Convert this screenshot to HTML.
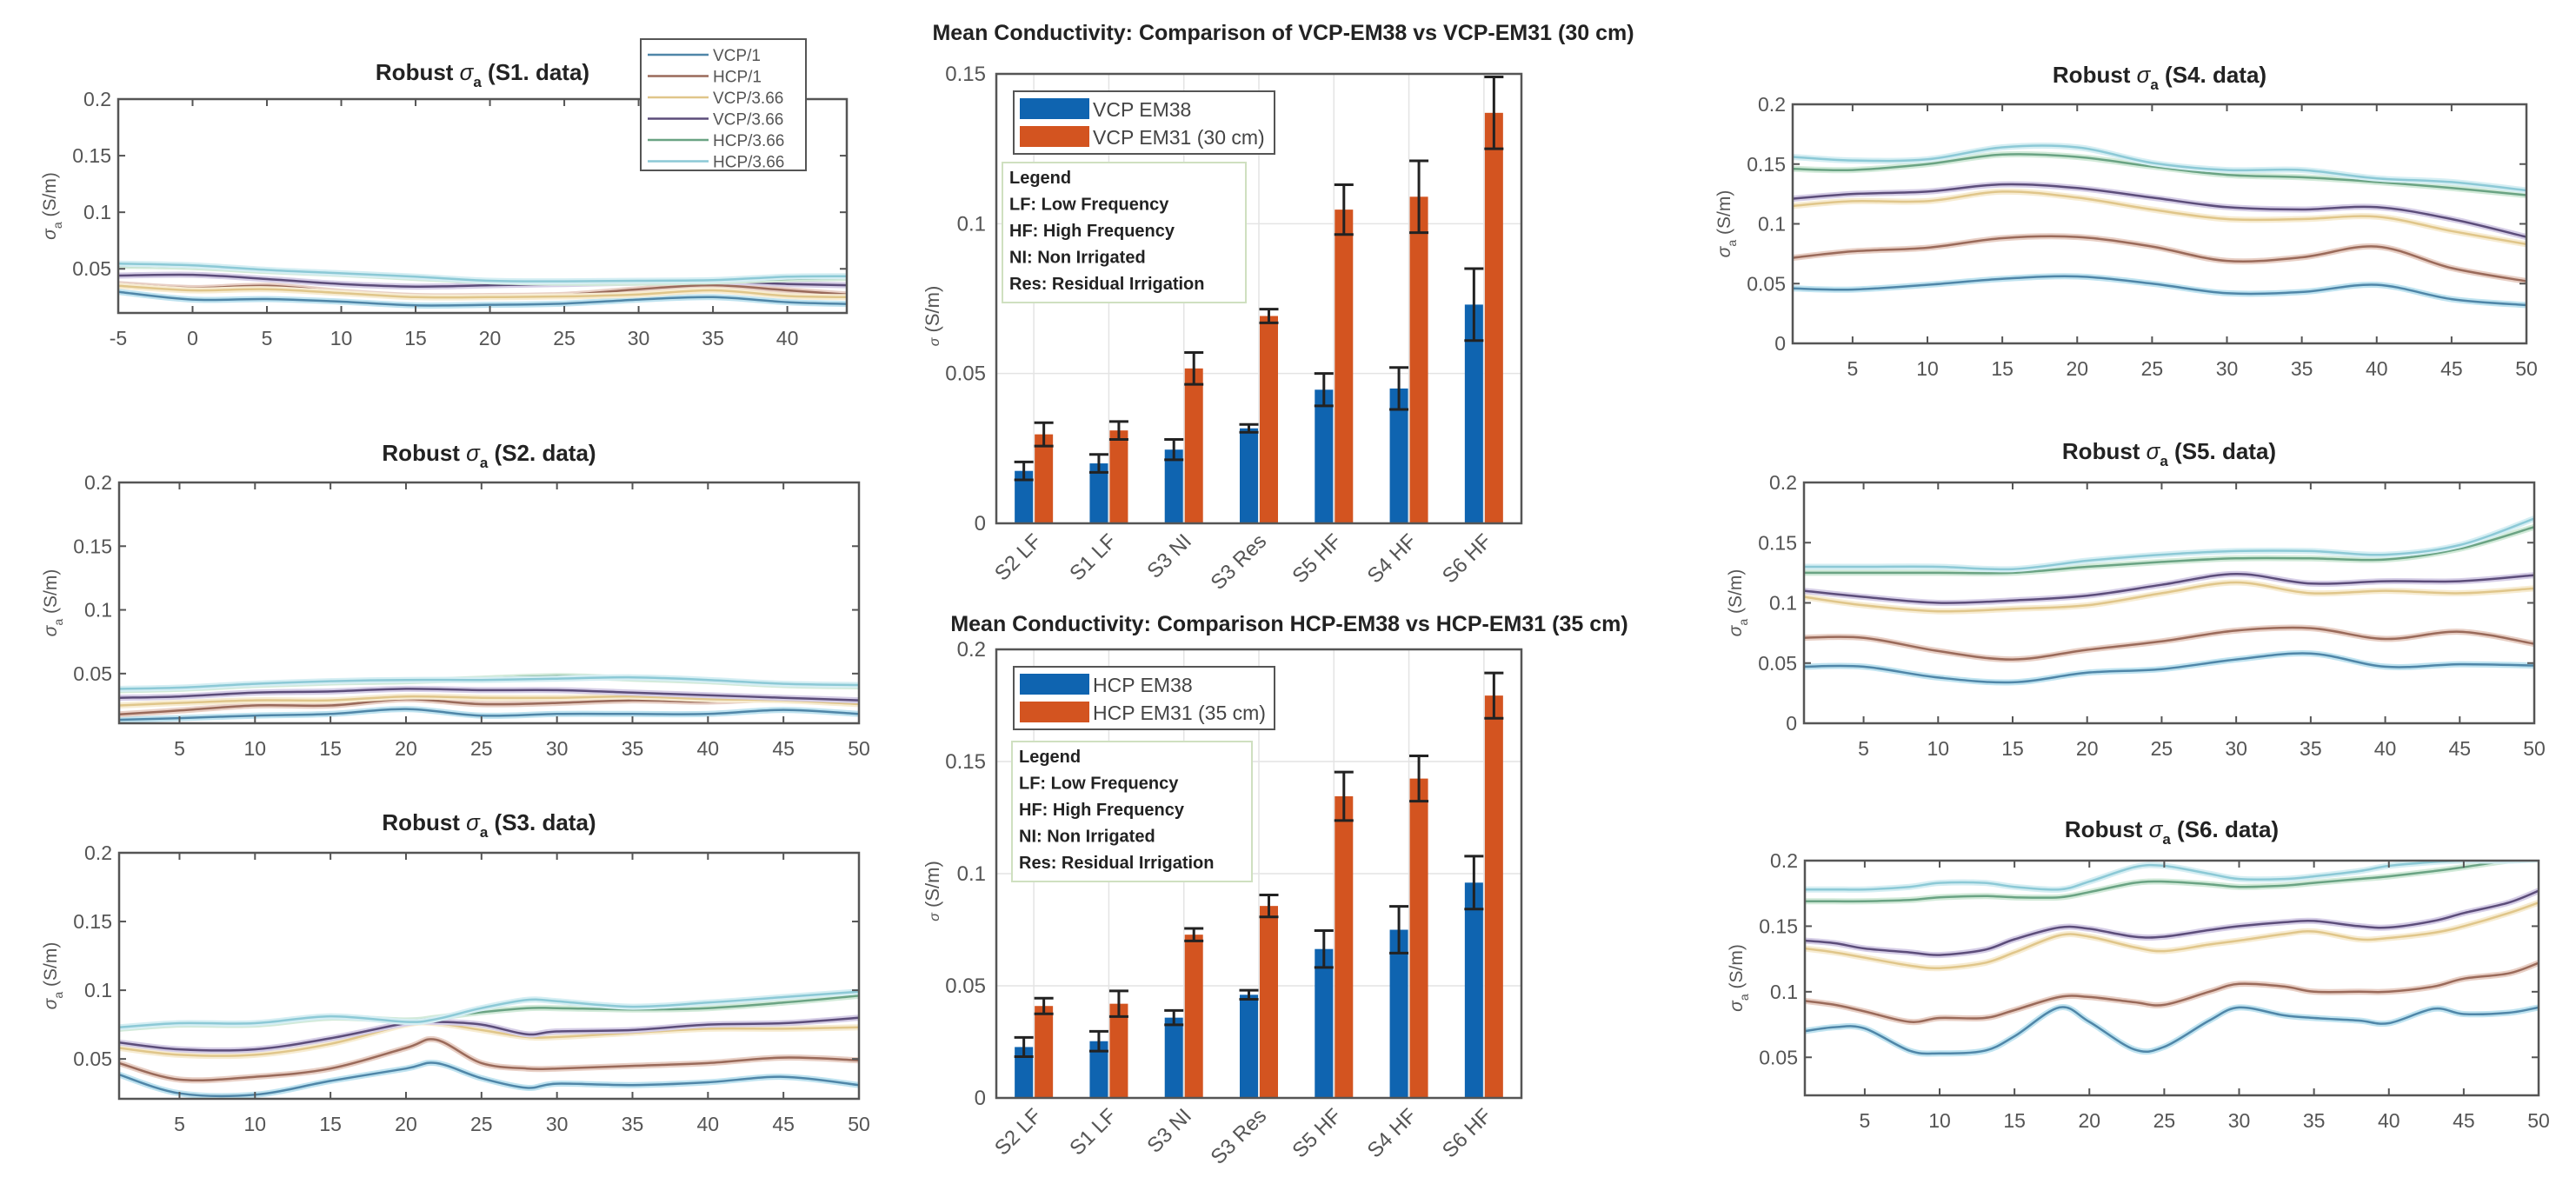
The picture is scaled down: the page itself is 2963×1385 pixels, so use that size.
<!DOCTYPE html>
<html><head><meta charset="utf-8">
<style>
html,body{margin:0;padding:0;background:#fff;}
svg{display:block;font-family:"Liberation Sans",Arial,sans-serif;}
</style></head>
<body>
<svg id="fig" width="2963" height="1385" viewBox="0 0 2963 1385" xmlns="http://www.w3.org/2000/svg"></svg>
<script>
// ===== Line-panel data =====
const seriesNames = ["VCP/1","HCP/1","VCP/3.66","VCP/3.66","HCP/3.66","HCP/3.66"];
const xsS1 = [-5,0,5,10,15,20,25,30,35,40,44];
const s1_vcp1   = [0.0297,0.0228,0.0233,0.021,0.0177,0.0182,0.0193,0.0228,0.025,0.0205,0.019];
const s1_hcp1   = [0.0366,0.033,0.035,0.0297,0.026,0.026,0.027,0.032,0.0355,0.031,0.0274];
const s1_vcp366 = [0.035,0.031,0.032,0.0286,0.025,0.025,0.0256,0.0274,0.031,0.026,0.025];
const s1_vcp366b= [0.044,0.0447,0.041,0.0366,0.0343,0.0355,0.0366,0.0378,0.039,0.0366,0.0355];
const s1_hcp366 = [0.0528,0.0516,0.048,0.0454,0.042,0.039,0.0378,0.0378,0.039,0.041,0.042];
const s1_hcp366b= [0.0546,0.053,0.049,0.046,0.043,0.0394,0.039,0.0394,0.04,0.043,0.0435];

const xsS2 = [1,5,10,15,20,25,30,35,40,45,50];
const s2_vcp1   = [0.0137,0.015,0.017,0.0183,0.0222,0.017,0.0183,0.0183,0.0183,0.0215,0.0183];
const s2_hcp1   = [0.018,0.021,0.025,0.025,0.030,0.026,0.027,0.029,0.028,0.030,0.027];
const s2_vcp366 = [0.025,0.027,0.029,0.029,0.032,0.031,0.031,0.032,0.030,0.029,0.026];
const s2_vcp366b= [0.031,0.032,0.035,0.036,0.038,0.037,0.037,0.035,0.033,0.031,0.029];
const s2_hcp366 = [0.037,0.038,0.041,0.043,0.044,0.046,0.048,0.046,0.044,0.041,0.040];
const s2_hcp366b= [0.038,0.039,0.042,0.044,0.045,0.045,0.046,0.047,0.045,0.042,0.041];

const xsS3 = [1,5,10,15,20,22,25,28,30,35,40,45,50];
const s3_vcp1   = [0.0386,0.025,0.024,0.034,0.043,0.047,0.036,0.029,0.032,0.031,0.033,0.037,0.031];
const s3_hcp1   = [0.047,0.035,0.037,0.043,0.058,0.064,0.047,0.043,0.043,0.045,0.047,0.051,0.049];
const s3_vcp366 = [0.058,0.053,0.053,0.061,0.075,0.076,0.071,0.066,0.066,0.069,0.072,0.072,0.073];
const s3_vcp366b= [0.062,0.057,0.057,0.065,0.076,0.077,0.075,0.068,0.070,0.071,0.075,0.076,0.080];
const s3_hcp366 = [0.072,0.075,0.075,0.080,0.078,0.080,0.084,0.087,0.087,0.086,0.087,0.091,0.096];
const s3_hcp366b= [0.073,0.076,0.076,0.081,0.077,0.079,0.087,0.093,0.092,0.088,0.091,0.095,0.099];

const xsS4 = [1,5,10,15,20,25,30,35,40,45,50];
const s4_vcp1   = [0.046,0.045,0.049,0.054,0.056,0.050,0.042,0.043,0.049,0.037,0.032];
const s4_hcp1   = [0.0716,0.077,0.080,0.088,0.089,0.081,0.069,0.072,0.081,0.063,0.052];
const s4_vcp366 = [0.115,0.119,0.119,0.127,0.122,0.112,0.104,0.104,0.106,0.094,0.083];
const s4_vcp366b= [0.121,0.125,0.127,0.133,0.130,0.122,0.114,0.112,0.114,0.104,0.089];
const s4_hcp366 = [0.146,0.145,0.150,0.158,0.156,0.148,0.141,0.139,0.135,0.130,0.124];
const s4_hcp366b= [0.156,0.153,0.154,0.164,0.164,0.151,0.145,0.145,0.138,0.135,0.128];

const xsS5 = [1,5,10,15,20,25,30,35,40,45,50];
const s5_vcp1   = [0.047,0.047,0.038,0.034,0.042,0.045,0.053,0.058,0.047,0.049,0.048];
const s5_hcp1   = [0.071,0.071,0.060,0.053,0.061,0.068,0.077,0.079,0.070,0.076,0.066];
const s5_vcp366 = [0.105,0.098,0.093,0.095,0.098,0.108,0.117,0.108,0.110,0.108,0.112];
const s5_vcp366b= [0.110,0.105,0.100,0.102,0.106,0.115,0.124,0.116,0.118,0.118,0.123];
const s5_hcp366 = [0.125,0.125,0.125,0.125,0.130,0.134,0.137,0.137,0.136,0.145,0.163];
const s5_hcp366b= [0.130,0.130,0.130,0.128,0.135,0.140,0.143,0.143,0.140,0.148,0.170];

const xsS6 = [1,3,5,8,10,13,15,18,20,23,25,28,30,33,35,38,40,43,45,48,50];
const s6_vcp1   = [0.070,0.073,0.072,0.055,0.053,0.055,0.066,0.088,0.077,0.056,0.058,0.078,0.088,0.082,0.080,0.078,0.076,0.087,0.083,0.084,0.088];
const s6_hcp1   = [0.093,0.090,0.085,0.077,0.080,0.080,0.086,0.096,0.096,0.092,0.090,0.100,0.106,0.104,0.100,0.100,0.100,0.104,0.110,0.114,0.122];
const s6_vcp366 = [0.133,0.130,0.126,0.120,0.118,0.122,0.130,0.143,0.142,0.134,0.131,0.136,0.139,0.144,0.146,0.140,0.141,0.145,0.150,0.160,0.168];
const s6_vcp366b= [0.139,0.137,0.133,0.130,0.128,0.132,0.140,0.149,0.148,0.142,0.142,0.147,0.150,0.153,0.154,0.150,0.149,0.154,0.160,0.168,0.177];
const s6_hcp366 = [0.169,0.169,0.169,0.170,0.172,0.173,0.172,0.172,0.176,0.183,0.184,0.182,0.180,0.181,0.183,0.186,0.188,0.192,0.195,0.200,0.201];
const s6_hcp366b= [0.178,0.178,0.178,0.180,0.183,0.183,0.180,0.178,0.184,0.195,0.196,0.190,0.186,0.186,0.188,0.192,0.196,0.199,0.200,0.200,0.201];

// ===== Bar-chart data =====
const barCategories = ["S2 LF","S1 LF","S3 NI","S3 Res","S5 HF","S4 HF","S6 HF"];
const vcpEM38      = [0.0175,0.020,0.0246,0.0317,0.0446,0.045,0.073];
const vcpEM38Err   = [0.003,0.003,0.0034,0.0013,0.0054,0.007,0.012];
const vcpEM31      = [0.0297,0.031,0.0517,0.0692,0.1047,0.109,0.137];
const vcpEM31Err   = [0.0039,0.003,0.0053,0.0023,0.0083,0.012,0.012];
const hcpEM38      = [0.0227,0.0253,0.0358,0.046,0.0664,0.075,0.096];
const hcpEM38Err   = [0.0043,0.0044,0.0032,0.002,0.0082,0.0104,0.0118];
const hcpEM31      = [0.041,0.042,0.0728,0.0856,0.1345,0.1424,0.1794];
const hcpEM31Err   = [0.0035,0.0057,0.0028,0.0049,0.0108,0.0101,0.0101];
const yTicksBar1 = [0,0.05,0.1,0.15];
const yTicksBar2 = [0,0.05,0.1,0.15,0.2];
const legendNotes = ["Legend","LF: Low Frequency","HF: High Frequency","NI: Non Irrigated","Res: Residual Irrigation"];

const NS="http://www.w3.org/2000/svg";
const svg=document.getElementById('fig');
function mk(tag,attrs,parent){const e=document.createElementNS(NS,tag);for(const k in attrs)e.setAttribute(k,attrs[k]);(parent||svg).appendChild(e);return e;}
function fmt(v){return (Math.round(v*100)/100).toString();}
function smoothPath(pts){
  let d="M"+pts[0][0].toFixed(1)+","+pts[0][1].toFixed(1);
  for(let i=0;i<pts.length-1;i++){
    const p0=pts[i-1]||pts[i],p1=pts[i],p2=pts[i+1],p3=pts[i+2]||p2;
    const c1=[p1[0]+(p2[0]-p0[0])/6,p1[1]+(p2[1]-p0[1])/6];
    const c2=[p2[0]-(p3[0]-p1[0])/6,p2[1]-(p3[1]-p1[1])/6];
    d+=" C"+c1[0].toFixed(1)+","+c1[1].toFixed(1)+" "+c2[0].toFixed(1)+","+c2[1].toFixed(1)+" "+p2[0].toFixed(1)+","+p2[1].toFixed(1);
  }
  return d;
}
const lineColors=["#4f86a8","#9a6a5a","#e0c68a","#5c4d7a","#6aa383","#8cc9d6"];
const haloColors=["#bfe3f0","#e8cfc5","#f7ecd2","#d5cde6","#d2ead9","#d5eef3"];

function linePanel(cfg){
  const g=mk('g',{});
  
  
  const {L,R,T,B,x0,x1,y0,y1}=cfg;
  const sx=v=>L+(v-x0)/(x1-x0)*(R-L);
  const sy=v=>B-(v-y0)/(y1-y0)*(B-T);
  mk('rect',{x:L,y:T,width:R-L,height:B-T,fill:'#fff'},g);
  const clipId='clip'+cfg.id;
  const cp=mk('clipPath',{id:clipId},g);mk('rect',{x:L,y:T,width:R-L,height:B-T},cp);
  const lg=mk('g',{'clip-path':'url(#'+clipId+')'},g);
  cfg.series.forEach((s,i)=>{
    const pts=cfg.xs.map((x,j)=>[sx(x),sy(s[j])]);
    const d=smoothPath(pts);
    const h=mk('path',{d:d,fill:'none',stroke:haloColors[i],'stroke-width':7},lg);
    
    
    const p=mk('path',{d:d,fill:'none',stroke:lineColors[i],'stroke-width':2.5},lg);
    
    
  });
  mk('rect',{x:L,y:T,width:R-L,height:B-T,fill:'none',stroke:'#555','stroke-width':2.5},g);
  cfg.xticks.forEach(t=>{
    const x=sx(t);
    mk('line',{x1:x,y1:B,x2:x,y2:B-8,stroke:'#555','stroke-width':2},g);
    mk('line',{x1:x,y1:T,x2:x,y2:T+8,stroke:'#555','stroke-width':2},g);
    const tx=mk('text',{x:x,y:B+37,'text-anchor':'middle','font-size':23,fill:'#555'},g);
    tx.textContent=t;
    
    
  });
  cfg.yticks.forEach(t=>{
    const y=sy(t);
    mk('line',{x1:L,y1:y,x2:L+8,y2:y,stroke:'#555','stroke-width':2},g);
    mk('line',{x1:R,y1:y,x2:R-8,y2:y,stroke:'#555','stroke-width':2},g);
    const ty=mk('text',{x:L-8,y:y+8,'text-anchor':'end','font-size':23,fill:'#555'},g);
    ty.textContent=fmt(t);
    
    
  });
  const tt=mk('text',{x:(L+R)/2,y:cfg.titleY,'text-anchor':'middle','font-size':26,'font-weight':'bold',fill:'#222'},g);
  
  
  tt.innerHTML='Robust <tspan font-style="italic" font-weight="normal">σ</tspan><tspan dy="8" font-size="17">a</tspan><tspan dy="-8"> ('+cfg.label+'. data)</tspan>';
  const yl=mk('text',{transform:'translate('+(L-72)+','+((T+B)/2)+') rotate(-90)','text-anchor':'middle','font-size':21,fill:'#555'},g);
  
  
  yl.innerHTML='<tspan font-style="italic">σ</tspan><tspan dy="7" font-size="14">a</tspan><tspan dy="-7"> (S/m)</tspan>';
  return g;
}
const S=(a,b,c,d,e,f)=>[a,b,c,d,e,f];
const tk5=[5,10,15,20,25,30,35,40,45,50];
linePanel({id:1,name:'panel-s1',label:'S1',L:136,R:974,T:114,B:360,x0:-5,x1:44,y0:0.011,y1:0.2,xs:xsS1,series:S(s1_vcp1,s1_hcp1,s1_vcp366,s1_vcp366b,s1_hcp366,s1_hcp366b),xticks:[-5,0,5,10,15,20,25,30,35,40],yticks:[0.05,0.1,0.15,0.2],titleY:92});
linePanel({id:2,name:'panel-s2',label:'S2',L:137,R:988,T:555,B:832,x0:1,x1:50,y0:0.011,y1:0.2,xs:xsS2,series:S(s2_vcp1,s2_hcp1,s2_vcp366,s2_vcp366b,s2_hcp366,s2_hcp366b),xticks:tk5,yticks:[0.05,0.1,0.15,0.2],titleY:530});
linePanel({id:3,name:'panel-s3',label:'S3',L:137,R:988,T:981,B:1264,x0:1,x1:50,y0:0.021,y1:0.2,xs:xsS3,series:S(s3_vcp1,s3_hcp1,s3_vcp366,s3_vcp366b,s3_hcp366,s3_hcp366b),xticks:tk5,yticks:[0.05,0.1,0.15,0.2],titleY:955});
linePanel({id:4,name:'panel-s4',label:'S4',L:2062,R:2906,T:120,B:395,x0:1,x1:50,y0:0,y1:0.2,xs:xsS4,series:S(s4_vcp1,s4_hcp1,s4_vcp366,s4_vcp366b,s4_hcp366,s4_hcp366b),xticks:tk5,yticks:[0,0.05,0.1,0.15,0.2],titleY:95});
linePanel({id:5,name:'panel-s5',label:'S5',L:2075,R:2915,T:555,B:832,x0:1,x1:50,y0:0,y1:0.2,xs:xsS5,series:S(s5_vcp1,s5_hcp1,s5_vcp366,s5_vcp366b,s5_hcp366,s5_hcp366b),xticks:tk5,yticks:[0,0.05,0.1,0.15,0.2],titleY:528});
linePanel({id:6,name:'panel-s6',label:'S6',L:2076,R:2920,T:990,B:1260,x0:1,x1:50,y0:0.021,y1:0.2,xs:xsS6,series:S(s6_vcp1,s6_hcp1,s6_vcp366,s6_vcp366b,s6_hcp366,s6_hcp366b),xticks:tk5,yticks:[0.05,0.1,0.15,0.2],titleY:963});

// S1 legend
(function(){
  const g=mk('g',{});
  
  
  mk('rect',{x:737,y:45,width:190,height:151,fill:'#fff',stroke:'#555','stroke-width':2},g);
  seriesNames.forEach((n,i)=>{
    const y=63+i*24.5;
    mk('line',{x1:745,y1:y,x2:815,y2:y,stroke:lineColors[i],'stroke-width':2.5},g);
    const t=mk('text',{x:820,y:y+7,'font-size':19,fill:'#555'},g);
    t.textContent=n;
    
    
  });
})();

function barChart(cfg){
  const g=mk('g',{});
  
  
  const {L,R,T,B,ymax}=cfg;
  const n=barCategories.length, gw=(R-L)/n;
  const sy=v=>B-v/ymax*(B-T);
  const cx=i=>L+gw*(i+0.5);
  mk('rect',{x:L,y:T,width:R-L,height:B-T,fill:'#fff'},g);
  cfg.yticks.forEach(t=>{
    const y=sy(t);
    mk('line',{x1:L,y1:y,x2:R,y2:y,stroke:'#e4e4e4','stroke-width':1.5},g);
    const ty=mk('text',{x:L-12,y:y+8,'text-anchor':'end','font-size':24,fill:'#555'},g);
    ty.textContent=fmt(t);
    
    
  });
  barCategories.forEach((c,i)=>{
    mk('line',{x1:cx(i),y1:T,x2:cx(i),y2:B,stroke:'#e4e4e4','stroke-width':1.5},g);
  });
  const bw=21;
  barCategories.forEach((c,i)=>{
    [[cfg.a,cfg.ae,'#0f64b0',-11.5,'em38'],[cfg.b,cfg.be,'#d35420',11.5,'em31']].forEach(([vals,errs,col,off,nm])=>{
      const x=cx(i)+off;
      const r=mk('rect',{x:x-bw/2,y:sy(vals[i]),width:bw,height:B-sy(vals[i]),fill:col},g);
      
      
      const y1=sy(vals[i]+errs[i]),y2=sy(vals[i]-errs[i]);
      const e=mk('path',{d:'M'+x+','+y1+' L'+x+','+y2+' M'+(x-11)+','+y1+' L'+(x+11)+','+y1+' M'+(x-11)+','+y2+' L'+(x+11)+','+y2,stroke:'#222','stroke-width':3,fill:'none'},g);
      
      
    });
    const tx=mk('text',{transform:'translate('+(cx(i)+10)+','+(B+22)+') rotate(-45)','text-anchor':'end','font-size':24,fill:'#555'},g);
    tx.textContent=c;
    
    
  });
  mk('rect',{x:L,y:T,width:R-L,height:B-T,fill:'none',stroke:'#555','stroke-width':2.5},g);
  const tt=mk('text',{x:cfg.titleX,y:cfg.titleY,'text-anchor':'middle','font-size':25,'font-weight':'bold',fill:'#222'},g);
  tt.textContent=cfg.title;
  
  
  const yl=mk('text',{transform:'translate('+(L-66)+','+((T+B)/2+20)+') rotate(-90)','text-anchor':'middle','font-size':22,fill:'#555'},g);
  
  
  yl.innerHTML='<tspan font-style="italic" font-size="16">σ</tspan> (S/m)';
  // legend 1
  const lg=mk('g',{},g);
  
  
  const ly=cfg.legY;
  mk('rect',{x:1166,y:ly,width:300,height:72,fill:'#fff',stroke:'#555','stroke-width':2},lg);
  mk('rect',{x:1173,y:ly+8,width:80,height:24,fill:'#0f64b0'},lg);
  mk('rect',{x:1173,y:ly+40,width:80,height:24,fill:'#d35420'},lg);
  const t1=mk('text',{x:1257,y:ly+29,'font-size':23,fill:'#444'},lg);t1.textContent=cfg.leg[0];
  
  
  const t2=mk('text',{x:1257,y:ly+61,'font-size':23,fill:'#444'},lg);t2.textContent=cfg.leg[1];
  
  
  // legend notes
  const ng=mk('g',{},g);
  
  
  mk('rect',{x:cfg.noteX,y:cfg.noteY,width:cfg.noteW,height:161,fill:'#fff',stroke:'#cfe0c0','stroke-width':2},ng);
  legendNotes.forEach((s,i)=>{
    const t=mk('text',{x:cfg.noteX+8,y:cfg.noteY+24+i*30.5,'font-size':20,'font-weight':'bold',fill:'#222'},ng);
    t.textContent=s;
    
    
  });
}
barChart({name:'bar-chart-vcp',L:1146,R:1750,T:85,B:602,ymax:0.15,yticks:yTicksBar1,a:vcpEM38,ae:vcpEM38Err,b:vcpEM31,be:vcpEM31Err,
  title:'Mean Conductivity: Comparison of VCP-EM38 vs VCP-EM31 (30 cm)',titleX:1476,titleY:46,legY:105,leg:['VCP EM38','VCP EM31 (30 cm)'],noteX:1153,noteY:187,noteW:280});
barChart({name:'bar-chart-hcp',L:1146,R:1750,T:747,B:1263,ymax:0.2,yticks:yTicksBar2,a:hcpEM38,ae:hcpEM38Err,b:hcpEM31,be:hcpEM31Err,
  title:'Mean Conductivity: Comparison HCP-EM38 vs HCP-EM31 (35 cm)',titleX:1483,titleY:726,legY:767,leg:['HCP EM38','HCP EM31 (35 cm)'],noteX:1164,noteY:853,noteW:276});
</script>
</body></html>
